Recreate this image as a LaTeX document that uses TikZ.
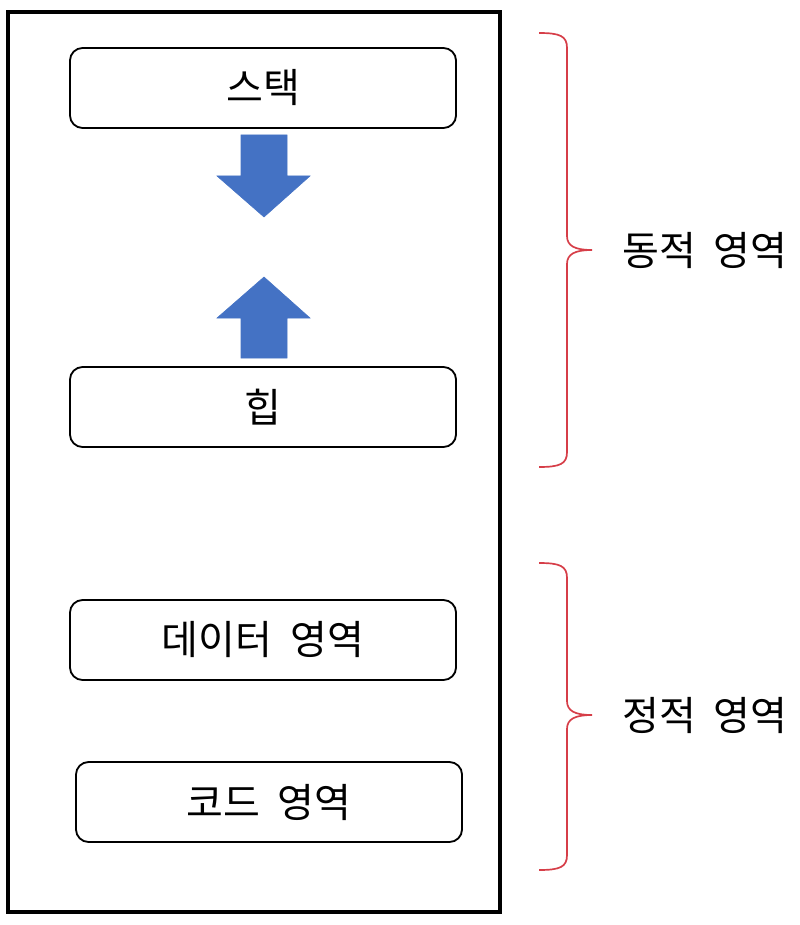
\documentclass[tikz,border=0pt]{standalone}
\usepackage{fontspec}
\setmainfont{Noto Sans CJK KR}
\usepackage{tikz}
\definecolor{arrowblue}{RGB}{68,114,196}
\definecolor{bracered}{RGB}{214,62,72}
\tikzset{every path/.style={semithick}}
\tikzset{region/.style={draw, rounded corners=9pt, line width=1.3pt, minimum width=9.65cm, minimum height=2cm, font=\fontsize{28.5}{32}\selectfont}}
\tikzset{label/.style={font=\fontsize{28.5}{32}\selectfont}}
\tikzset{brace/.style={draw=bracered, line width=1.2pt}}
\tikzset{blockarrow/.style={fill=arrowblue, draw=arrowblue, line width=0.4pt}}

\begin{document}
\begin{tikzpicture}[x=0.025cm, y=-0.025cm]
    \useasboundingbox (0,0) rectangle (800,925);
    \draw[line width=2.8pt] (8,12) rectangle (500,912);

    \node[region] (stack) at (263,88) {스택};
    \node[region] (heap) at (263,407) {힙};
    \node[region] (data) at (263,640) {데이터\ \ 영역};
    \node[region] (code) at (269,802) {코드\ \ 영역};

    \fill[blockarrow] (241,135) -- (287,135) -- (287,176) -- (310,176) -- (264,217) -- (217,176) -- (241,176) -- cycle;
    \fill[blockarrow] (264,277) -- (310,318) -- (287,318) -- (287,358) -- (241,358) -- (241,318) -- (217,318) -- cycle;

    \node[label] (dynamic) at (705,250) {동적\ \ 영역};
    \node[label] (static) at (705,715) {정적\ \ 영역};

    \draw[brace] (539,33) .. controls (560,33) and (567,36) .. (567,48) -- (567,236)
        .. controls (567,246) and (575,250) .. (592,250)
        .. controls (575,250) and (567,254) .. (567,264) -- (567,452)
        .. controls (567,464) and (560,467) .. (539,467);
    \draw[brace] (539,563) .. controls (560,563) and (567,566) .. (567,578) -- (567,701)
        .. controls (567,711) and (575,715) .. (592,715)
        .. controls (575,715) and (567,719) .. (567,729) -- (567,855)
        .. controls (567,867) and (560,870) .. (539,870);
\end{tikzpicture}
\end{document}
